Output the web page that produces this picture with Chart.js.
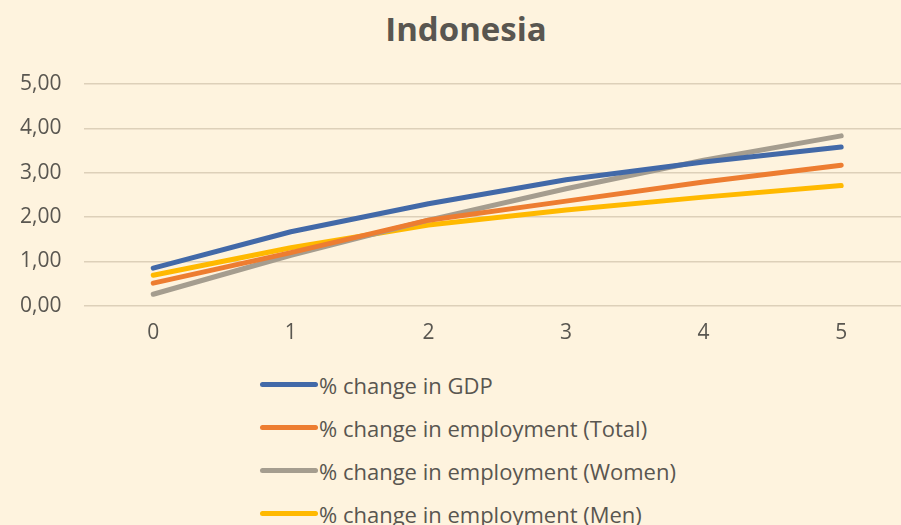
<!DOCTYPE html>
<html>
<head>
<meta charset="utf-8">
<script src="https://cdn.jsdelivr.net/npm/chart.js@4.4.1/dist/chart.umd.min.js"></script>
<style>
    html, body { margin: 0; padding: 0; background: #FEF3DE; }
    #wrap { position: relative; width: 901px; height: 525px; overflow: hidden; font-family: "Open Sans", sans-serif; color: #595650; }
    #title { position: absolute; left: 0; width: 932px; top: 6px; text-align: center; font-weight: bold; font-size: 33px; }
    #plot { position: absolute; left: 0; top: 0; width: 910px; height: 353px; }
    #legend { position: absolute; left: 260px; top: 363px; }
    .item { display: flex; align-items: center; height: 43px; font-size: 22px; }
    .swatch { width: 58px; height: 5px; border-radius: 3px; margin-right: 1px; }
</style>
</head>
<body>
<div id="wrap">
    <div id="title">Indonesia</div>
    <div id="plot"><canvas id="chart"></canvas></div>
    <div id="legend"></div>
</div>
<script>
// years after shock
const categories = ['0', '1', '2', '3', '4', '5'];

const seriesNames = [
    '% change in GDP',
    '% change in employment (Total)',
    '% change in employment (Women)',
    '% change in employment (Men)'
];
const gdp = [0.85, 1.67, 2.30, 2.84, 3.24, 3.58];
const empTotal = [0.51, 1.20, 1.93, 2.36, 2.79, 3.17];
const empWomen = [0.26, 1.14, 1.93, 2.64, 3.28, 3.83];
const empMen = [0.69, 1.31, 1.82, 2.16, 2.45, 2.71];

const yTicks = [0, 1, 2, 3, 4, 5];

const colors = ['#4269A8', '#ED7D31', '#A59D8F', '#FFB900'];
const values = [gdp, empTotal, empWomen, empMen];
const textColor = '#595650';

Chart.defaults.font.family = '"Open Sans", sans-serif';
Chart.defaults.color = textColor;

new Chart(document.getElementById('chart'), {
    type: 'line',
    data: {
        labels: categories,
        datasets: values.map((v, i) => ({
            label: seriesNames[i],
            data: v,
            borderColor: colors[i],
            backgroundColor: colors[i],
            borderWidth: 5,
            borderCapStyle: 'round',
            borderJoinStyle: 'round',
            pointRadius: 0,
            tension: 0
        }))
    },
    options: {
        responsive: true,
        maintainAspectRatio: false,
        animation: false,
        layout: { padding: { top: 84, right: 0, left: -3, bottom: 0 } },
        plugins: {
            legend: { display: false },
            tooltip: { enabled: false }
        },
        scales: {
            x: {
                offset: true,
                grid: { display: false },
                border: { display: false },
                ticks: { font: { size: 21 }, color: textColor, padding: 7 }
            },
            y: {
                min: 0,
                max: 5,
                afterBuildTicks: axis => { axis.ticks = yTicks.map(v => ({ value: v })); },
                grid: { color: '#DDD0B9', lineWidth: 1.5, drawTicks: false },
                border: { display: false },
                ticks: {
                    font: { size: 21 },
                    color: textColor,
                    padding: 23,
                    callback: v => v.toFixed(2).replace('.', ',')
                }
            }
        }
    }
});

// vertical legend below the plot
const legend = document.getElementById('legend');
legend.innerHTML = seriesNames.map((name, i) => `
    <div class="item">
        <div class="swatch" style="background:${colors[i]}"></div>
        <span>${name}</span>
    </div>
`).join('');
</script>
</body>
</html>
